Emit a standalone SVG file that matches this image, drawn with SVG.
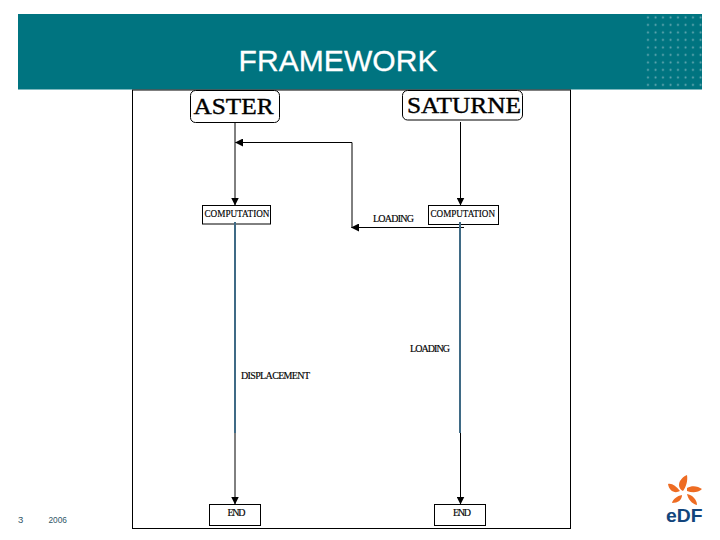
<svg xmlns="http://www.w3.org/2000/svg" width="720" height="540" viewBox="0 0 720 540">
<style>
.box{fill:#fff;stroke:#000;stroke-width:1}
.ln{fill:none;stroke:#000;stroke-width:1}
.bar{fill:none;stroke:#3f6a85;stroke-width:2}
.big{font-family:"Liberation Serif",serif;font-size:24px;fill:#000;stroke:#000;stroke-width:.4}
.sm{font-family:"Liberation Serif",serif;font-size:10px;fill:#000;stroke:#000;stroke-width:.15}
.foot{font-family:"Liberation Sans",sans-serif;font-size:9.500px;fill:#2f5566}
</style>
<defs>
<pattern id="dots" x="644.5" y="14" width="7.5" height="7.5" patternUnits="userSpaceOnUse"><circle cx="3.5" cy="3.4" r="1" fill="#6aaab3"/></pattern>
<marker id="ah" viewBox="0 0 8 8" refX="7.5" refY="4" markerWidth="8" markerHeight="8" markerUnits="userSpaceOnUse" orient="auto"><path d="M0 0L8 4L0 8Z" fill="#000"/></marker>
</defs>
<g id="header">
<rect x="18" y="14" width="684" height="75.5" fill="#007480"/>
<rect x="644.5" y="14" width="57.5" height="75" fill="url(#dots)"/>
<text x="238.500" y="71" font-family="'Liberation Sans',sans-serif" font-size="30" fill="#fff" stroke="#fff" stroke-width=".3" textLength="199">FRAMEWORK</text>
</g>
<rect id="frame" x="132.500" y="90" width="438" height="438.500" fill="none" stroke="#000" stroke-width="1"/>
<g id="aster"><rect class="box" x="190.500" y="90.500" width="89" height="32" rx="5"/><text class="big" x="193.500" y="114" textLength="80" lengthAdjust="spacingAndGlyphs">ASTER</text></g>
<g id="saturne"><rect class="box" x="402.500" y="90.500" width="120" height="29.500" rx="5"/><text class="big" x="407" y="112.500" textLength="114" lengthAdjust="spacingAndGlyphs">SATURNE</text></g>
<g id="computation-a"><rect class="box" x="202.500" y="205.500" width="68" height="18.500"/><text class="sm" x="204.500" y="217" textLength="65" lengthAdjust="spacingAndGlyphs">COMPUTATION</text></g>
<g id="computation-s"><rect class="box" x="428.500" y="205.500" width="70" height="19"/><text class="sm" x="430.500" y="217" textLength="64.500" lengthAdjust="spacingAndGlyphs">COMPUTATION</text></g>
<g id="end-a"><rect class="box" x="209.500" y="504.500" width="51" height="21"/><text class="sm" x="227.500" y="516" textLength="18">END</text></g>
<g id="end-s"><rect class="box" x="434.500" y="504.500" width="51" height="21"/><text class="sm" x="453" y="516" textLength="18">END</text></g>
<g id="connectors">
<path class="ln" d="M235 122.500V205" marker-end="url(#ah)"/>
<path class="ln" d="M460.500 122V205" marker-end="url(#ah)"/>
<path class="ln" d="M352 227.500V142.500H235.500" marker-end="url(#ah)"/>
<path class="ln" d="M464 227.500H351.500" marker-end="url(#ah)"/>
<path class="bar" d="M235 222V433"/>
<path class="bar" d="M460 222V433"/>
<path class="ln" d="M235 433V504" marker-end="url(#ah)"/>
<path class="ln" d="M460.500 433V504" marker-end="url(#ah)"/>
</g>
<g id="labels">
<text class="sm" x="373" y="222" textLength="41">LOADING</text>
<text class="sm" x="410" y="352" textLength="40">LOADING</text>
<text class="sm" x="241" y="379" textLength="69">DISPLACEMENT</text>
</g>
<g id="footer">
<text class="foot" x="18" y="522.500">3</text>
<text class="foot" x="48.500" y="522.500" textLength="18.500" lengthAdjust="spacingAndGlyphs">2006</text>
</g>
<g id="logo">
<path fill="#ee6c23" d="M687 475C688 481 686 487 683 491C679 489 678 485 680 481C682 478 684 476 687 475ZM668 484C672 483 676 486 680 491C675 494 669 491 668 484ZM687 488C692 485 698 486 702 489C698 493 692 493 687 491ZM672 503C673 499 677 496 682 495C682 500 678 503 672 503ZM687 494C692 495 697 499 697 505C692 504 688 499 687 494Z"/>
<text x="666" y="522" font-family="'Liberation Sans',sans-serif" font-size="19" font-weight="bold" fill="#12457c" textLength="36.500" lengthAdjust="spacingAndGlyphs">eDF</text>
</g>
</svg>
